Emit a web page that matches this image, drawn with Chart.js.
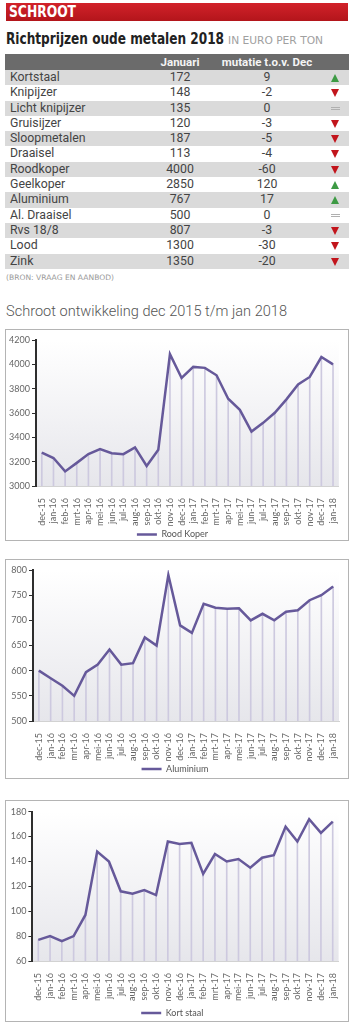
<!DOCTYPE html>
<html>
<head>
<meta charset="utf-8">
<script src="https://cdn.jsdelivr.net/npm/chart.js@4/dist/chart.umd.min.js"></script>
<style>
body { margin: 0; width: 354px; height: 1024px; background: #fff; position: relative; overflow: hidden; font-family: "DejaVu Sans Condensed", "Roboto", sans-serif; }
.abs { position: absolute; white-space: nowrap; }
.fit { display: inline-block; transform-origin: 0 0; }
#kop { left: 6px; top: 3px; width: 342px; height: 18px; background: linear-gradient(#d2222a, #b3151b); }
#kop span { position: absolute; left: 3px; top: 0; line-height: 18px; font-size: 15px; font-weight: bold; color: #fff; }
#titel { left: 6px; top: 29px; font-size: 16px; font-weight: bold; color: #222; line-height: 20px; }
#eenheid { left: 228px; top: 35px; font-size: 11px; color: #a0a0a0; line-height: 12px; }
#tabel { left: 5px; top: 54px; width: 344px; font-family: "Roboto", sans-serif; }
.rij { position: relative; height: 15.3px; font-size: 12.3px; color: #444; }
.rij.kop { height: 16px; background: #6b6b6b; color: #f4f4f4; font-weight: bold; font-size: 11.5px; }
.rij.grijs { background: #dadada; }
.rij span { position: absolute; top: 0; line-height: 15.3px; }
.rij.kop span { line-height: 16px; }
.naam { left: 5px; }
.jan { left: 135px; width: 80px; text-align: center; }
.mut { left: 212px; width: 100px; text-align: center; }
.pijl { left: 324px; width: 14px; height: 15px; }
.op { position: absolute; left: 2px; top: 4px; width: 0; height: 0; border-left: 4.5px solid transparent; border-right: 4.5px solid transparent; border-bottom: 8px solid #3d9a44; }
.neer { position: absolute; left: 2px; top: 4px; width: 0; height: 0; border-left: 4.5px solid transparent; border-right: 4.5px solid transparent; border-top: 8.5px solid #c2151c; }
.gelijk { position: absolute; left: 2px; top: 6px; width: 9px; height: 1px; border-top: 1px solid #b0b0b0; border-bottom: 1px solid #b0b0b0; }
#bron { left: 6px; top: 273px; font-size: 7.5px; color: #9a9a9a; }
#sub { left: 6px; top: 302px; font-size: 15px; font-family: "Roboto", sans-serif; font-weight: 300; color: #555; }
.box { position: absolute; left: 5px; width: 342px; border: 1px solid #b4b4b4; }
.box canvas { display: block; }
</style>
</head>
<body>
<div id="kop" class="abs"><span class="fit" data-w="67">SCHROOT</span></div>
<div id="titel" class="abs"><span class="fit" data-w="218">Richtprijzen oude metalen 2018</span></div>
<div id="eenheid" class="abs"><span class="fit" data-w="95">IN EURO PER TON</span></div>
<div id="tabel" class="abs"></div>
<div id="bron" class="abs"><span class="fit" data-w="108">(BRON: VRAAG EN AANBOD)</span></div>
<div id="sub" class="abs"><span class="fit" data-w="281">Schroot ontwikkeling dec 2015 t/m jan 2018</span></div>

<div class="box" style="top:329px"><canvas id="koper" width="342" height="210"></canvas></div>
<div class="box" style="top:559px"><canvas id="alu" width="342" height="218"></canvas></div>
<div class="box" style="top:800px"><canvas id="staal" width="342" height="220"></canvas></div>

<script>
// Richtprijzen januari 2018 (euro per ton)
const metalen = ['Kortstaal', 'Knipijzer', 'Licht knipijzer', 'Gruisijzer', 'Sloopmetalen', 'Draaisel', 'Roodkoper', 'Geelkoper', 'Aluminium', 'Al. Draaisel', 'Rvs 18/8', 'Lood', 'Zink'];
const januari = [172, 148, 135, 120, 187, 113, 4000, 2850, 767, 500, 807, 1300, 1350];
const mutatie = [9, -2, 0, -3, -5, -4, -60, 120, 17, 0, -3, -30, -20];

// Ontwikkeling dec 2015 t/m jan 2018
const maanden = ['dec-15', 'jan-16', 'feb-16', 'mrt-16', 'apr-16', 'mei-16', 'jun-16', 'jul-16', 'aug-16', 'sep-16', 'okt-16', 'nov-16', 'dec-16',
    'jan-17', 'feb-17', 'mrt-17', 'apr-17', 'mei-17', 'jun-17', 'jul-17', 'aug-17', 'sep-17', 'okt-17', 'nov-17', 'dec-17', 'jan-18'];
const roodKoper = [3275, 3230, 3120, 3190, 3262, 3304, 3270, 3262, 3317, 3165, 3298, 4084, 3888, 3979, 3971, 3910, 3717, 3626, 3447, 3519, 3602, 3712, 3834, 3896, 4060, 4000];
const aluminium = [600, 585, 570, 550, 597, 612, 642, 612, 615, 666, 650, 790, 690, 675, 733, 725, 723, 724, 700, 713, 700, 717, 720, 740, 750, 767];
const kortStaal = [77, 80, 76, 80, 97, 148, 140, 116, 114, 117, 113, 156, 154, 155, 130, 146, 140, 142, 135, 143, 145, 168, 156, 174, 163, 172];

// Tabel opbouwen
const tabel = document.getElementById('tabel');
let html = '<div class="rij kop"><span class="jan">Januari</span><span class="mut">mutatie t.o.v. Dec</span></div>';
metalen.forEach((m, i) => {
    const m2 = mutatie[i];
    const pijl = m2 > 0 ? '<i class="op"></i>' : (m2 < 0 ? '<i class="neer"></i>' : '<i class="gelijk"></i>');
    html += '<div class="rij' + (i % 2 === 0 ? ' grijs' : '') + '"><span class="naam">' + m + '</span><span class="jan">' + januari[i] +
        '</span><span class="mut">' + m2 + '</span><span class="pijl">' + pijl + '</span></div>';
});
tabel.innerHTML = html;

// Teksten op breedte brengen
document.querySelectorAll('.fit').forEach(el => {
    const w = el.getBoundingClientRect().width;
    el.style.transform = 'scaleX(' + (parseFloat(el.dataset.w) / w) + ')';
});

// Grijs verloop achter het plotvlak
const achtergrond = {
    id: 'achtergrond',
    beforeDraw(chart) {
        const { ctx, chartArea: a } = chart;
        const g = ctx.createLinearGradient(0, a.top, 0, a.bottom);
        g.addColorStop(0, '#ffffff');
        g.addColorStop(1, '#e6e6eb');
        ctx.save();
        ctx.fillStyle = g;
        ctx.fillRect(a.left, a.top, a.right - a.left, a.bottom - a.top);
        ctx.restore();
    }
};

const lijnKleur = '#66599a';
const staafKleur = '#cdc9df';
const tickFont = { family: 'Lato', size: 9 };

function grafiek(id, naam, waarden, yMin, yMax, stap, yBreedte, xHoogte, padding) {
    return new Chart(document.getElementById(id), {
        type: 'bar',
        data: {
            labels: maanden,
            datasets: [{
                type: 'line',
                label: naam,
                data: waarden,
                borderColor: lijnKleur,
                backgroundColor: lijnKleur,
                borderWidth: 2.5,
                pointRadius: 0,
                tension: 0,
                order: 0
            }, {
                type: 'bar',
                label: 'lijnen',
                data: waarden,
                backgroundColor: staafKleur,
                barThickness: 1,
                order: 1
            }]
        },
        options: {
            responsive: false,
            animation: false,
            layout: { padding: padding },
            plugins: {
                tooltip: { enabled: false },
                legend: {
                    position: 'bottom',
                    labels: {
                        filter: item => item.datasetIndex === 0,
                        usePointStyle: true,
                        pointStyle: 'line',
                        pointStyleWidth: 20,
                        padding: 0,
                        color: '#555',
                        font: { family: 'Lato', size: 9 }
                    }
                }
            },
            scales: {
                x: {
                    grid: { display: false },
                    border: { color: '#d2d2d2', width: 1 },
                    ticks: { autoSkip: false, minRotation: 90, maxRotation: 90, color: '#666', font: tickFont, padding: 4 },
                    afterFit: s => { s.height = xHoogte; }
                },
                y: {
                    min: yMin,
                    max: yMax,
                    grid: { drawOnChartArea: false, tickLength: 4, color: '#2e2e2e' },
                    border: { color: '#2e2e2e', width: 2 },
                    ticks: { stepSize: stap, color: '#666', font: tickFont, padding: 2, callback: v => String(v) },
                    afterFit: s => { s.width = yBreedte; }
                }
            }
        },
        plugins: [achtergrond]
    });
}

grafiek('koper', 'Rood Koper', roodKoper, 3000, 4200, 200, 30, 44, { top: 10, right: 9, left: 0, bottom: -9 });
grafiek('alu', 'Aluminium', aluminium, 500, 800, 50, 27, 43.5, { top: 10, right: 4, left: 0, bottom: -5.5 });
grafiek('staal', 'Kort staal', kortStaal, 60, 180, 20, 26.4, 47.5, { top: 10.7, right: 9.4, left: 0, bottom: -6.5 });
</script>
</body>
</html>
